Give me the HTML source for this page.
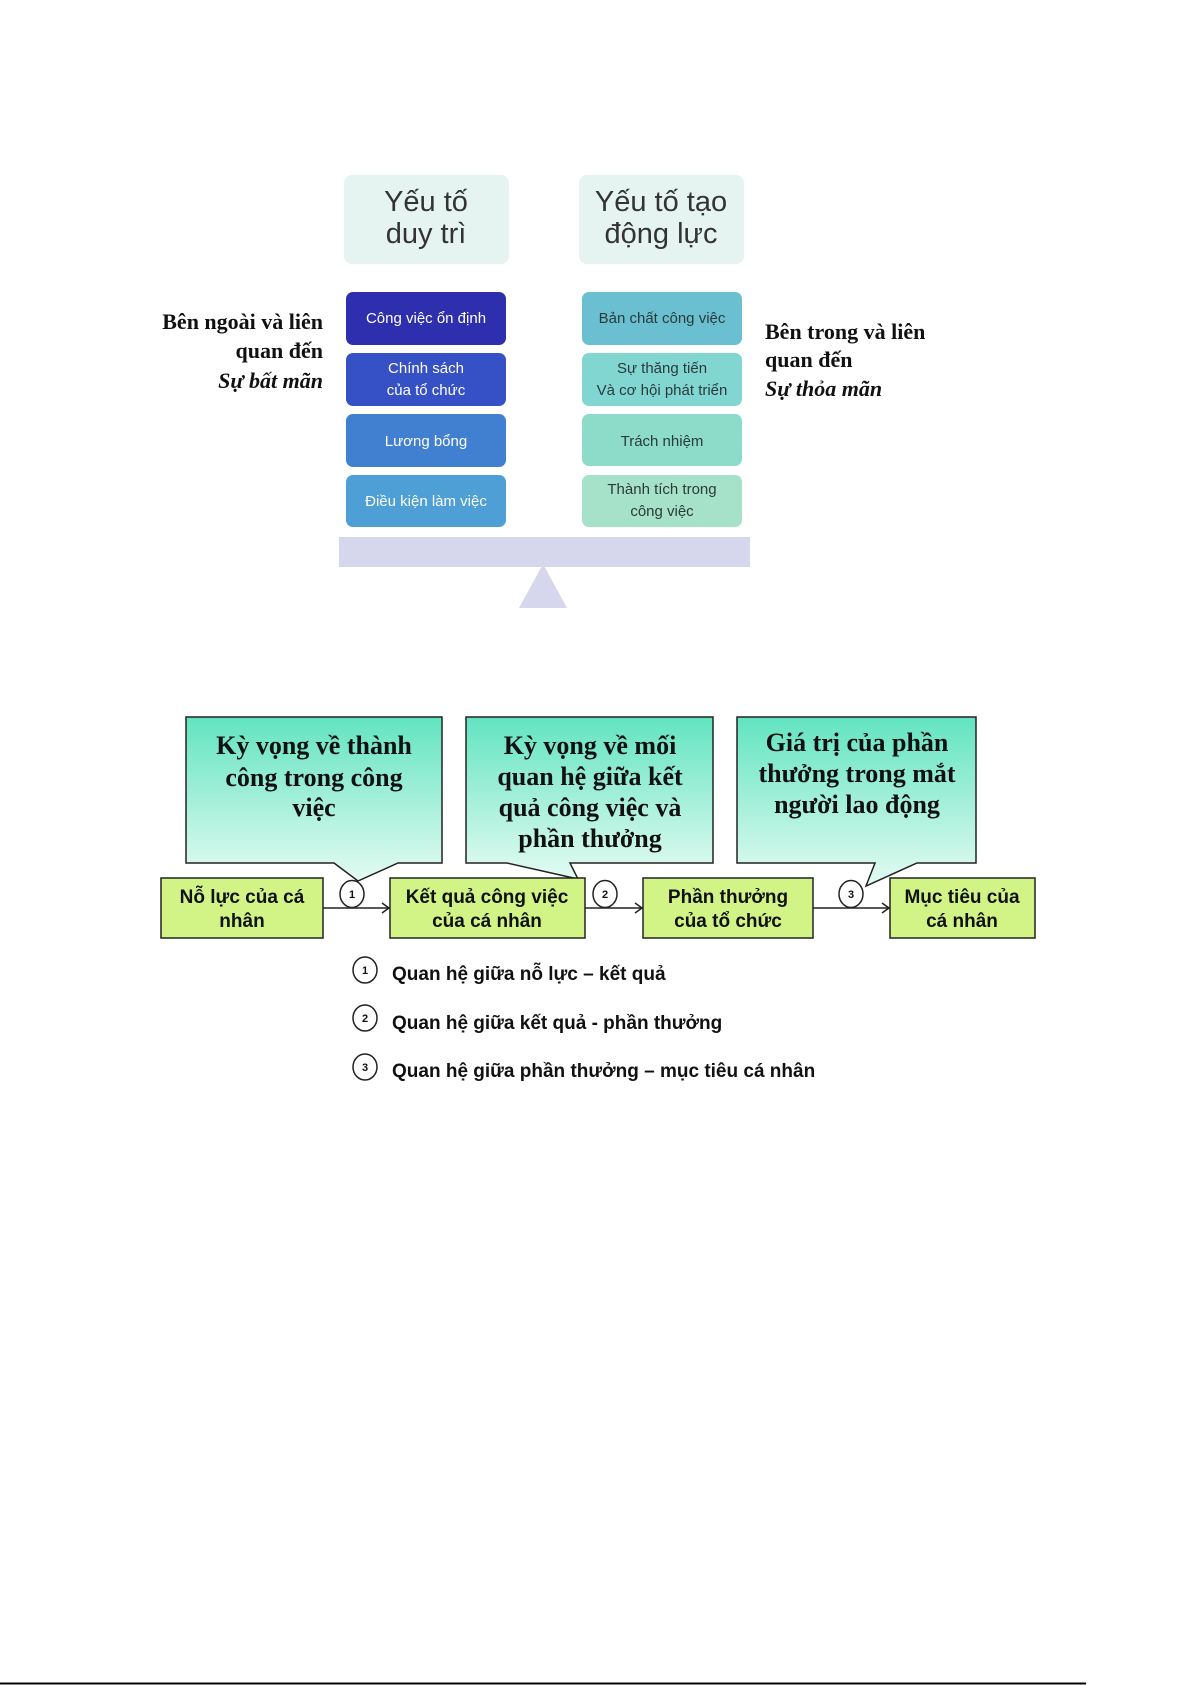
<!DOCTYPE html>
<html><head><meta charset="utf-8"><style>
html,body{margin:0;padding:0;background:#fff;}
svg{display:block;}
.hd{font-family:"Liberation Sans",sans-serif;font-size:29px;fill:#333;text-anchor:middle;}
.bx{font-family:"Liberation Sans",sans-serif;font-size:15px;fill:#fff;text-anchor:middle;}
.rx{font-family:"Liberation Sans",sans-serif;font-size:15px;fill:#2a3a3a;text-anchor:middle;}
.sd{font-family:"Liberation Serif",serif;font-size:22px;font-weight:bold;fill:#111;}
.co{font-family:"Liberation Serif",serif;font-size:26px;font-weight:bold;fill:#111;text-anchor:middle;}
.nb{font-family:"Liberation Sans",sans-serif;font-size:19px;font-weight:bold;fill:#111;text-anchor:middle;}
.lg{font-family:"Liberation Sans",sans-serif;font-size:19px;font-weight:bold;fill:#111;}
.cn{font-family:"Liberation Sans",sans-serif;font-size:11px;font-weight:bold;fill:#111;text-anchor:middle;}
</style></head><body>
<svg width="1192" height="1685" viewBox="0 0 1192 1685" xmlns="http://www.w3.org/2000/svg">
<defs>
<linearGradient id="g" x1="0" y1="0" x2="0" y2="1">
<stop offset="0" stop-color="#62e4c0"/><stop offset="1" stop-color="#e4fbf2"/>
</linearGradient>
</defs>
<rect x="344" y="175" width="165" height="89" rx="8" fill="#e6f4f1"/>
<rect x="579" y="175" width="165" height="89" rx="8" fill="#e6f4f1"/>
<text class="hd" x="426" y="211">Yếu tố</text>
<text class="hd" x="426" y="243">duy trì</text>
<text class="hd" x="661" y="211">Yếu tố tạo</text>
<text class="hd" x="661" y="243">động lực</text>

<rect x="346" y="292" width="160" height="53" rx="7" fill="#2e2fae"/>
<rect x="346" y="353" width="160" height="53" rx="7" fill="#3650c6"/>
<rect x="346" y="414" width="160" height="53" rx="7" fill="#4180d0"/>
<rect x="346" y="475" width="160" height="52" rx="7" fill="#4d9fd6"/>
<text class="bx" x="426" y="323">Công việc ổn định</text>
<text class="bx" x="426" y="373">Chính sách</text>
<text class="bx" x="426" y="395">của tổ chức</text>
<text class="bx" x="426" y="446">Lương bổng</text>
<text class="bx" x="426" y="506">Điều kiện làm việc</text>

<rect x="582" y="292" width="160" height="53" rx="7" fill="#6ac0d0"/>
<rect x="582" y="353" width="160" height="53" rx="7" fill="#82d6d2"/>
<rect x="582" y="414" width="160" height="52" rx="7" fill="#8ddcc9"/>
<rect x="582" y="475" width="160" height="52" rx="7" fill="#a6e2ca"/>
<text class="rx" x="662" y="323">Bản chất công việc</text>
<text class="rx" x="662" y="373">Sự thăng tiến</text>
<text class="rx" x="662" y="395">Và cơ hội phát triển</text>
<text class="rx" x="662" y="446">Trách nhiệm</text>
<text class="rx" x="662" y="494">Thành tích trong</text>
<text class="rx" x="662" y="516">công việc</text>

<rect x="339" y="537" width="411" height="30" fill="#d6d6ec"/>
<polygon points="543,564 519,608 567,608" fill="#d6d6ec"/>

<text class="sd" x="323" y="329" text-anchor="end">Bên ngoài và liên</text>
<text class="sd" x="323" y="358" text-anchor="end">quan đến</text>
<text class="sd" x="323" y="388" text-anchor="end" font-style="italic">Sự bất mãn</text>
<text class="sd" x="765" y="339">Bên trong và liên</text>
<text class="sd" x="765" y="367">quan đến</text>
<text class="sd" x="765" y="396" font-style="italic">Sự thỏa mãn</text>

<path d="M186,717 H442 V863 H398 L358,881 L334,863 H186 Z" fill="url(#g)" stroke="#222" stroke-width="1.5"/>
<path d="M466,717 H713 V863 H570 L578,879 L507,863 H466 Z" fill="url(#g)" stroke="#222" stroke-width="1.5"/>
<path d="M737,717 H976 V863 H917 L866,886 L875,863 H737 Z" fill="url(#g)" stroke="#222" stroke-width="1.5"/>
<text class="co" x="314" y="754">Kỳ vọng về thành</text>
<text class="co" x="314" y="786">công trong công</text>
<text class="co" x="314" y="816">việc</text>
<text class="co" x="590" y="754">Kỳ vọng về mối</text>
<text class="co" x="590" y="785">quan hệ giữa kết</text>
<text class="co" x="590" y="816">quả công việc và</text>
<text class="co" x="590" y="847">phần thưởng</text>
<text class="co" x="857" y="751">Giá trị của phần</text>
<text class="co" x="857" y="782">thưởng trong mắt</text>
<text class="co" x="857" y="813">người lao động</text>

<g stroke="#222" stroke-width="1.5" fill="none">
<line x1="323" y1="908" x2="389" y2="908"/><polyline points="382,903 389,908 382,913"/>
<line x1="585" y1="908" x2="642" y2="908"/><polyline points="635,903 642,908 635,913"/>
<line x1="813" y1="908" x2="889" y2="908"/><polyline points="882,903 889,908 882,913"/>
</g>
<rect x="161" y="878" width="162" height="60" fill="#d2f486" stroke="#222" stroke-width="1.5"/>
<rect x="390" y="878" width="195" height="60" fill="#d2f486" stroke="#222" stroke-width="1.5"/>
<rect x="643" y="878" width="170" height="60" fill="#d2f486" stroke="#222" stroke-width="1.5"/>
<rect x="890" y="878" width="145" height="60" fill="#d2f486" stroke="#222" stroke-width="1.5"/>
<text class="nb" x="242" y="903">Nỗ lực của cá</text>
<text class="nb" x="242" y="927">nhân</text>
<text class="nb" x="487" y="903">Kết quả công việc</text>
<text class="nb" x="487" y="927">của cá nhân</text>
<text class="nb" x="728" y="903">Phần thưởng</text>
<text class="nb" x="728" y="927">của tổ chức</text>
<text class="nb" x="962" y="903">Mục tiêu của</text>
<text class="nb" x="962" y="927">cá nhân</text>
<g fill="#fff" stroke="#222" stroke-width="1.5">
<ellipse cx="352" cy="894" rx="12" ry="13.5"/>
<ellipse cx="605" cy="894" rx="12" ry="13.5"/>
<ellipse cx="851" cy="894" rx="12" ry="13.5"/>
</g>
<text class="cn" x="352" y="898">1</text>
<text class="cn" x="605" y="898">2</text>
<text class="cn" x="851" y="898">3</text>

<g fill="#fff" stroke="#222" stroke-width="1.5">
<ellipse cx="365" cy="970" rx="12" ry="13"/>
<ellipse cx="365" cy="1018" rx="12" ry="13"/>
<ellipse cx="365" cy="1067" rx="12" ry="13"/>
</g>
<text class="cn" x="365" y="974">1</text>
<text class="cn" x="365" y="1022">2</text>
<text class="cn" x="365" y="1071">3</text>
<text class="lg" x="392" y="980">Quan hệ giữa nỗ lực – kết quả</text>
<text class="lg" x="392" y="1029">Quan hệ giữa kết quả - phần thưởng</text>
<text class="lg" x="392" y="1077">Quan hệ giữa phần thưởng – mục tiêu cá nhân</text>

<line x1="0" y1="1683.5" x2="1086" y2="1683.5" stroke="#000" stroke-width="2"/>
</svg>
</body></html>
